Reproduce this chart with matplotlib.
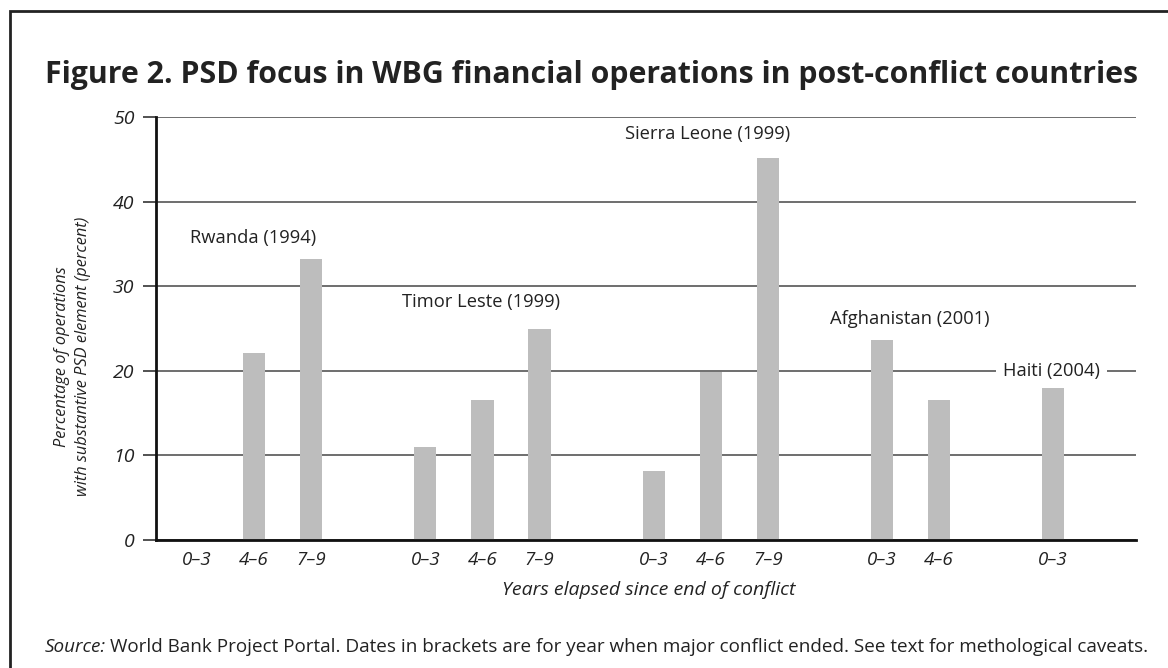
import matplotlib

matplotlib.use("Agg")

import matplotlib.pyplot as plt
from matplotlib.patches import Rectangle

plt.rcParams["font.family"] = ["Open Sans", "DejaVu Sans"]

# Данные
countries = ["Rwanda (1994)", "Timor Leste (1999)", "Sierra Leone (1999)",
             "Afghanistan (2001)", "Haiti (2004)"]
periods = [["0–3", "4–6", "7–9"],
           ["0–3", "4–6", "7–9"],
           ["0–3", "4–6", "7–9"],
           ["0–3", "4–6"],
           ["0–3"]]
rwanda = [0.0, 22.1, 33.2]
timor_leste = [11.0, 16.5, 24.9]
sierra_leone = [8.2, 19.8, 45.2]
afghanistan = [23.6, 16.5]
haiti = [18.0]
values = [rwanda, timor_leste, sierra_leone, afghanistan, haiti]

# Положение подписи страны относительно первого столбика группы (x, y)
label_offsets = [(-0.12, 35.7), (-0.41, 28.1), (-0.5, 48.0),
                 (-0.91, 26.1), (-0.88, 20.0)]

fig = plt.figure(figsize=(11.68, 6.68), dpi=100)
ax = fig.add_axes([0.1336, 0.1916, 0.8390, 0.6333])

positions = []
heights = []
labels = []
start = 0
for i in range(len(countries)):
    group_positions = [start + k for k in range(len(values[i]))]
    positions += group_positions
    heights += values[i]
    labels += periods[i]
    dx, y = label_offsets[i]
    text_props = dict(ha="left", va="center", fontsize=13.2, color="#222222")
    if countries[i].startswith("Haiti"):
        text_props["bbox"] = dict(facecolor="white", edgecolor="none", pad=5)
    ax.text(start + dx, y, countries[i], **text_props)
    start = group_positions[-1] + 2

ax.bar(positions, heights, width=0.39, color="#bdbdbd", zorder=2)

ax.set_xlim(-0.718, 16.45)
ax.set_ylim(0, 50)
ax.set_yticks([0, 10, 20, 30, 40, 50])
ax.yaxis.grid(True, color="#555555", linewidth=1.2, zorder=1)
ax.set_axisbelow(True)

ax.set_xticks(positions)
ax.set_xticklabels(labels, fontstyle="italic", fontsize=13.5, color="#222222")
ax.tick_params(axis="x", length=0, pad=8)
ax.tick_params(axis="y", length=9.5, width=1.2, color="#333333", pad=6,
               labelsize=14, labelcolor="#222222")
for label in ax.get_yticklabels():
    label.set_fontstyle("italic")

for side in ["top", "right"]:
    ax.spines[side].set_visible(False)
for side in ["left", "bottom"]:
    ax.spines[side].set_linewidth(2.0)
    ax.spines[side].set_color("#111111")

fig.text(0.555, 0.117, "Years elapsed since end of conflict",
         ha="center", va="center", fontstyle="italic", fontsize=14,
         color="#222222")
fig.text(0.062, 0.466,
         "Percentage of operations\nwith substantive PSD element (percent)",
         ha="center", va="center", rotation=90, fontstyle="italic",
         fontsize=11.8, color="#222222", linespacing=1.35)

fig.text(0.0385, 0.888,
         "Figure 2. PSD focus in WBG financial operations in post-conflict countries",
         ha="left", va="center", fontweight="bold", fontsize=21.8,
         color="#222222")

source = fig.text(0.0385, 0.031, "Source:", ha="left", va="center",
                  fontstyle="italic", fontsize=13.6, color="#222222")
fig.canvas.draw()
source_box = source.get_window_extent()
fig.text(source_box.x1 / fig.bbox.width + 0.003, 0.031,
         "World Bank Project Portal. Dates in brackets are for year when major "
         "conflict ended. See text for methological caveats.",
         ha="left", va="center", fontsize=13.6, color="#222222")

# Рамка вокруг рисунка (правый и нижний края за пределами картинки)
fig.patches.append(Rectangle((10 / 1168, -0.1), 1.2, 1.1 - 11 / 668,
                             transform=fig.transFigure, fill=False,
                             edgecolor="#222222", linewidth=2.0))

fig.savefig("out.png", dpi=100, facecolor="white")
